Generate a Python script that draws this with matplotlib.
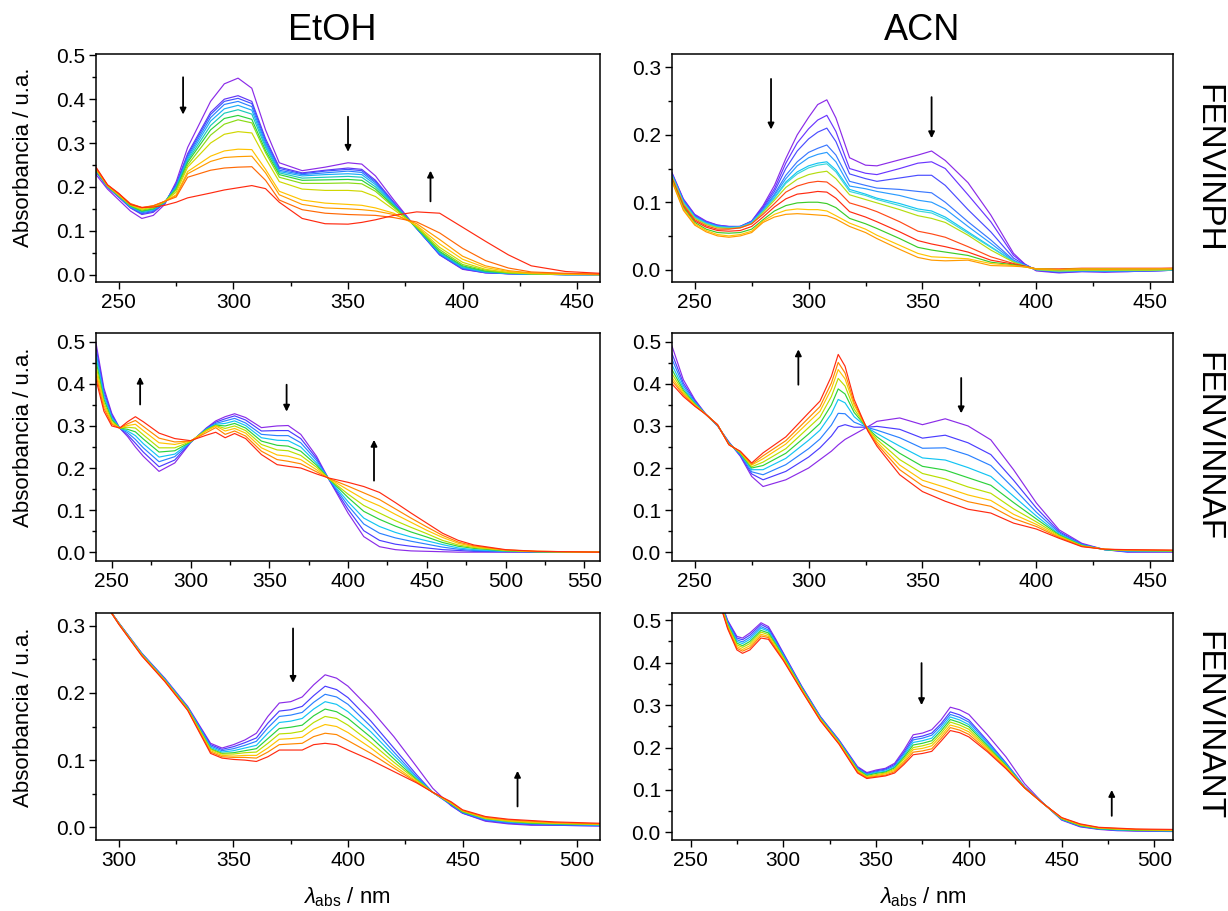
import numpy as np
import matplotlib
matplotlib.use('Agg')
import matplotlib.pyplot as plt
from matplotlib.colors import LinearSegmentedColormap
from matplotlib.ticker import MultipleLocator, FormatStrFormatter

plt.rcParams['font.family'] = ['Liberation Sans', 'DejaVu Sans']
plt.rcParams['mathtext.fontset'] = 'custom'
plt.rcParams['mathtext.rm'] = 'Liberation Sans'
plt.rcParams['mathtext.it'] = 'Liberation Sans:italic'

# ---------------- datos ----------------
# cada fila: absorbancia de todas las curvas a una longitud de onda (violeta -> rojo)

# FENVINPH / EtOH
wl_etoh_ph = [240, 245, 250, 255, 260, 265, 270, 275, 280, 290, 296, 302, 308, 314, 320,
              330, 340, 350, 356, 362, 370, 380, 390, 400, 410, 420, 430, 445, 460]
abs_etoh_ph = [
    [.228, .234, .235, .236, .237, .238, .239, .240, .240, .241, .242, .243, .245],
    [.195, .199, .200, .200, .201, .201, .202, .202, .203, .203, .204, .204, .205],
    [.170, .176, .177, .178, .179, .179, .180, .180, .181, .182, .183, .184, .185],
    [.145, .152, .153, .154, .155, .156, .157, .158, .159, .160, .161, .162, .160],
    [.128, .137, .139, .141, .143, .144, .145, .147, .149, .151, .152, .153, .153],
    [.135, .142, .144, .146, .148, .149, .150, .152, .154, .156, .157, .157, .154],
    [.160, .163, .164, .164, .165, .165, .166, .166, .167, .167, .167, .167, .158],
    [.212, .207, .205, .203, .200, .198, .195, .193, .188, .182, .180, .177, .165],
    [.290, .276, .272, .268, .264, .260, .256, .250, .245, .235, .230, .222, .175],
    [.395, .370, .365, .358, .350, .340, .330, .318, .300, .270, .258, .238, .186],
    [.435, .400, .395, .388, .378, .368, .356, .343, .320, .282, .267, .243, .193],
    [.448, .408, .402, .395, .386, .376, .363, .353, .326, .286, .269, .245, .198],
    [.425, .395, .390, .383, .375, .366, .354, .346, .323, .285, .270, .246, .203],
    [.330, .310, .305, .300, .295, .290, .283, .278, .265, .240, .232, .215, .196],
    [.255, .245, .242, .238, .235, .232, .228, .222, .212, .190, .182, .170, .165],
    [.237, .232, .230, .228, .225, .220, .215, .208, .195, .170, .160, .148, .128],
    [.245, .238, .236, .232, .228, .222, .216, .208, .192, .163, .152, .140, .116],
    [.255, .243, .240, .236, .230, .224, .217, .209, .192, .160, .150, .137, .115],
    [.252, .240, .237, .233, .228, .222, .215, .207, .190, .158, .148, .136, .119],
    [.225, .215, .212, .209, .205, .200, .195, .190, .178, .152, .145, .135, .125],
    [.170, .165, .163, .162, .160, .158, .156, .153, .148, .140, .137, .130, .135],
    [.105, .105, .105, .105, .106, .106, .107, .108, .110, .112, .116, .120, .143],
    [.045, .045, .046, .047, .049, .051, .053, .057, .062, .070, .080, .095, .140],
    [.012, .013, .014, .015, .016, .018, .020, .023, .028, .035, .042, .060, .108],
    [.004, .004, .005, .005, .006, .007, .008, .010, .012, .016, .020, .032, .076],
    [.002, .002, .002, .002, .003, .003, .004, .004, .005, .007, .009, .015, .045],
    [.001, .001, .001, .001, .001, .001, .002, .002, .002, .003, .004, .006, .020],
    [.000, .000, .000, .000, .000, .000, .000, .001, .001, .001, .002, .003, .007],
    [.000, .000, .000, .000, .000, .000, .000, .000, .000, .000, .001, .001, .003],
]

# FENVINPH / ACN
wl_acn_ph = [240, 245, 250, 255, 260, 265, 270, 275, 280, 285, 290, 295, 300, 304, 308, 312,
             318, 325, 330, 340, 348, 354, 360, 370, 380, 390, 395, 400, 410, 420, 430, 440,
             450, 460]
abs_acn_ph = [
    [.144, .143, .142, .141, .140, .140, .139, .138, .136, .134, .133, .132, .131],
    [.105, .104, .103, .102, .101, .100, .099, .098, .096, .094, .092, .090, .088],
    [.082, .081, .080, .079, .078, .078, .077, .076, .074, .072, .070, .068, .066],
    [.072, .071, .070, .070, .069, .069, .068, .067, .065, .063, .060, .058, .056],
    [.066, .066, .065, .065, .064, .064, .063, .062, .060, .058, .055, .052, .050],
    [.064, .064, .063, .063, .063, .062, .062, .061, .060, .057, .054, .050, .048],
    [.064, .064, .064, .064, .063, .063, .063, .062, .062, .058, .055, .052, .050],
    [.072, .072, .071, .071, .070, .070, .069, .068, .068, .064, .060, .057, .055],
    [.095, .093, .091, .089, .088, .087, .086, .085, .082, .078, .074, .072, .070],
    [.125, .120, .116, .112, .110, .107, .106, .103, .098, .093, .087, .082, .078],
    [.165, .158, .150, .140, .135, .130, .128, .122, .115, .105, .095, .088, .082],
    [.200, .188, .176, .160, .154, .145, .142, .134, .124, .112, .099, .090, .083],
    [.226, .209, .194, .174, .166, .154, .151, .141, .129, .114, .100, .089, .082],
    [.245, .222, .204, .180, .171, .158, .155, .144, .131, .116, .100, .089, .081],
    [.252, .229, .210, .185, .174, .160, .157, .146, .130, .115, .098, .087, .080],
    [.225, .205, .190, .170, .160, .148, .145, .135, .120, .106, .092, .080, .075],
    [.166, .150, .142, .131, .124, .119, .116, .111, .099, .086, .076, .069, .064],
    [.155, .143, .135, .125, .120, .112, .110, .104, .092, .078, .068, .060, .055],
    [.154, .141, .131, .121, .116, .106, .104, .099, .086, .071, .061, .051, .046],
    [.163, .150, .136, .119, .110, .098, .095, .089, .071, .056, .046, .036, .030],
    [.170, .158, .140, .116, .103, .090, .087, .080, .057, .043, .033, .024, .018],
    [.176, .160, .140, .114, .100, .087, .084, .076, .053, .038, .029, .019, .014],
    [.162, .150, .125, .100, .090, .078, .075, .070, .048, .034, .026, .018, .013],
    [.129, .111, .089, .071, .064, .056, .054, .051, .034, .026, .021, .016, .014],
    [.081, .071, .056, .044, .039, .034, .033, .029, .019, .014, .011, .009, .006],
    [.024, .021, .017, .014, .013, .012, .012, .011, .009, .008, .007, .006, .005],
    [.008, .008, .007, .006, .006, .006, .006, .005, .005, .005, .004, .004, .004],
    [-.002, -.001, -.001, .000, .000, .000, .000, .000, .001, .001, .001, .001, .001],
    [-.005, -.004, -.004, -.003, -.003, -.002, -.002, -.002, .000, .001, .000, .000, .000],
    [-.003, -.003, -.002, -.002, -.002, -.001, -.001, -.001, .001, .002, .001, .001, .001],
    [-.004, -.003, -.003, -.002, -.002, -.002, -.001, -.001, .001, .002, .001, .001, .000],
    [-.003, -.003, -.002, -.002, -.002, -.001, -.001, -.001, .001, .002, .001, .001, .001],
    [-.002, -.002, -.002, -.002, -.001, -.001, -.001, -.001, .001, .002, .001, .001, .001],
    [-.001, -.001, -.001, -.001, -.001, .000, .000, .000, .002, .002, .001, .001, .001],
]
colors_acn_ph = ['#8b2be8', '#6a35ff', '#4a4cff', '#3a78ff', '#2a9cff', '#12c4f5',
                 '#3ad8d8', '#b4dc10', '#ff4a18', '#ff2a10', '#3ccc28', '#ffc400', '#ff9a00']

# FENVINNAF / EtOH
wl_etoh_naf = [240, 245, 250, 255, 260, 265, 270, 280, 290, 300, 310, 316, 322, 328, 335, 345,
               355, 362, 370, 380, 388, 400, 410, 420, 430, 440, 450, 460, 470, 480, 500,
               520, 560]
abs_etoh_naf = [
    [.497, .487, .475, .465, .454, .443, .432, .421, .410],
    [.390, .383, .376, .370, .363, .356, .349, .342, .335],
    [.330, .326, .322, .319, .315, .311, .307, .304, .300],
    [.295, .295, .295, .295, .295, .295, .295, .295, .295],
    [.275, .279, .284, .288, .292, .297, .301, .305, .310],
    [.250, .259, .268, .277, .286, .295, .304, .313, .322],
    [.228, .238, .248, .258, .269, .279, .289, .299, .310],
    [.192, .203, .215, .226, .238, .248, .260, .271, .283],
    [.212, .219, .227, .233, .241, .248, .256, .262, .270],
    [.260, .261, .261, .262, .262, .263, .264, .264, .265],
    [.295, .294, .293, .292, .291, .290, .288, .284, .278],
    [.312, .309, .306, .304, .302, .301, .300, .296, .285],
    [.322, .317, .312, .306, .300, .294, .288, .280, .272],
    [.329, .324, .318, .312, .306, .300, .294, .288, .282],
    [.320, .314, .307, .301, .295, .289, .283, .276, .270],
    [.296, .288, .280, .272, .264, .256, .248, .240, .232],
    [.300, .289, .277, .266, .254, .243, .231, .220, .208],
    [.301, .289, .277, .265, .252, .241, .228, .216, .204],
    [.280, .270, .260, .250, .240, .230, .220, .210, .200],
    [.228, .223, .218, .212, .207, .202, .196, .191, .186],
    [.172, .172, .173, .173, .174, .174, .175, .175, .176],
    [.093, .102, .111, .120, .130, .138, .148, .157, .166],
    [.037, .051, .067, .081, .097, .111, .126, .141, .156],
    [.013, .028, .045, .061, .078, .093, .110, .125, .142],
    [.006, .019, .034, .047, .062, .075, .090, .103, .118],
    [.003, .014, .026, .036, .048, .059, .071, .081, .093],
    [.002, .010, .019, .027, .036, .044, .052, .060, .069],
    [.001, .006, .012, .018, .023, .028, .035, .040, .045],
    [.000, .004, .007, .010, .014, .017, .021, .024, .028],
    [.000, .002, .004, .006, .009, .011, .013, .015, .017],
    [.000, .001, .002, .002, .003, .004, .005, .005, .006],
    [.000, .000, .001, .001, .001, .001, .002, .002, .002],
    [.000, .000, .000, .000, .000, .000, .000, .000, .000],
]

# FENVINNAF / ACN
wl_acn_naf = [240, 245, 250, 255, 260, 265, 270, 275, 280, 290, 300, 305, 310, 313, 316, 320,
              326, 330, 340, 350, 360, 370, 380, 390, 400, 410, 420, 430, 440, 460]
abs_acn_naf = [
    [.490, .472, .459, .445, .434, .424, .415, .408, .400],
    [.410, .402, .396, .390, .385, .381, .377, .374, .370],
    [.363, .360, .357, .355, .353, .351, .350, .348, .347],
    [.327, .327, .327, .327, .327, .327, .327, .327, .327],
    [.300, .301, .301, .302, .302, .302, .303, .303, .303],
    [.262, .261, .260, .258, .258, .257, .256, .256, .255],
    [.228, .230, .232, .234, .235, .237, .238, .239, .240],
    [.180, .186, .191, .196, .200, .203, .207, .209, .212],
    [.156, .172, .184, .196, .206, .214, .222, .229, .236],
    [.172, .192, .208, .223, .235, .246, .257, .265, .274],
    [.200, .226, .246, .266, .281, .296, .309, .319, .331],
    [.220, .248, .269, .290, .306, .321, .335, .346, .359],
    [.240, .276, .302, .329, .350, .370, .388, .402, .418],
    [.255, .298, .330, .363, .388, .413, .434, .451, .470],
    [.268, .303, .329, .355, .376, .395, .412, .426, .442],
    [.280, .297, .309, .322, .332, .340, .349, .355, .363],
    [.298, .297, .296, .295, .294, .293, .292, .290, .288],
    [.311, .299, .290, .282, .274, .268, .262, .257, .252],
    [.319, .292, .272, .252, .235, .220, .207, .196, .184],
    [.303, .271, .247, .224, .204, .187, .171, .158, .144],
    [.317, .278, .248, .219, .195, .174, .154, .139, .121],
    [.300, .260, .231, .201, .177, .155, .136, .120, .102],
    [.267, .232, .206, .180, .159, .140, .123, .109, .093],
    [.196, .171, .152, .133, .118, .103, .090, .080, .069],
    [.117, .105, .095, .086, .079, .072, .066, .061, .055],
    [.053, .049, .046, .043, .041, .039, .037, .035, .033],
    [.021, .019, .018, .017, .016, .015, .014, .014, .013],
    [.006, .006, .006, .006, .006, .007, .007, .007, .007],
    [.000, .001, .002, .003, .004, .004, .005, .005, .006],
    [.000, .001, .002, .002, .003, .003, .004, .004, .005],
]

# FENVINANT / EtOH
wl_etoh_ant = [290, 295, 300, 310, 320, 330, 340, 345, 350, 355, 360, 365, 370, 375, 380,
               385, 390, 395, 400, 410, 420, 430, 437, 445, 450, 460, 470, 480, 490, 510]
abs_etoh_ant = [
    [.345, .345, .345, .345, .345, .345, .345, .345, .345],
    [.328, .328, .328, .328, .328, .328, .328, .328, .328],
    [.304, .304, .304, .303, .303, .303, .303, .302, .302],
    [.259, .259, .258, .258, .257, .257, .256, .256, .255],
    [.222, .221, .221, .220, .219, .219, .218, .218, .217],
    [.180, .179, .178, .178, .177, .176, .175, .175, .174],
    [.125, .123, .121, .119, .117, .116, .114, .112, .110],
    [.118, .116, .114, .112, .110, .109, .107, .105, .103],
    [.123, .120, .117, .114, .111, .109, .106, .104, .101],
    [.130, .126, .122, .118, .114, .111, .107, .104, .100],
    [.140, .133, .128, .122, .117, .112, .107, .103, .098],
    [.165, .155, .148, .140, .132, .125, .118, .112, .105],
    [.185, .173, .165, .156, .147, .139, .131, .123, .115],
    [.187, .175, .167, .158, .149, .140, .132, .124, .115],
    [.194, .180, .171, .162, .152, .143, .134, .125, .115],
    [.212, .196, .186, .176, .166, .156, .146, .135, .123],
    [.227, .210, .198, .187, .176, .165, .153, .140, .125],
    [.222, .205, .194, .183, .172, .162, .150, .138, .123],
    [.210, .193, .183, .172, .162, .152, .141, .129, .115],
    [.175, .158, .150, .142, .134, .126, .118, .110, .100],
    [.135, .118, .112, .107, .102, .097, .092, .088, .083],
    [.090, .078, .075, .073, .071, .070, .068, .067, .066],
    [.058, .052, .052, .052, .052, .052, .052, .052, .052],
    [.032, .033, .034, .035, .035, .036, .036, .037, .038],
    [.021, .021, .022, .023, .023, .024, .025, .025, .026],
    [.009, .010, .011, .012, .013, .013, .014, .015, .016],
    [.005, .006, .007, .008, .009, .009, .010, .011, .012],
    [.003, .004, .005, .006, .006, .007, .008, .009, .010],
    [.003, .003, .004, .005, .005, .006, .006, .007, .008],
    [.002, .002, .003, .003, .004, .004, .005, .005, .006],
]

# FENVINANT / ACN
wl_acn_ant = [265, 270, 275, 278, 282, 288, 292, 296, 300, 310, 320, 330, 340, 345, 350, 355,
              360, 365, 370, 375, 380, 385, 390, 395, 400, 410, 420, 430, 440, 450, 460, 470,
              480, 490, 510]
abs_acn_ant = [
    [.560, .559, .558, .556, .555, .554, .553, .551, .550],
    [.500, .498, .495, .493, .490, .488, .485, .483, .480],
    [.462, .458, .454, .450, .446, .442, .438, .434, .430],
    [.458, .454, .449, .445, .440, .436, .431, .427, .422],
    [.470, .465, .460, .455, .450, .445, .440, .435, .430],
    [.494, .490, .485, .481, .476, .472, .467, .463, .458],
    [.485, .481, .477, .474, .470, .466, .462, .459, .455],
    [.455, .452, .449, .446, .443, .440, .436, .433, .430],
    [.423, .421, .419, .416, .414, .412, .409, .407, .405],
    [.344, .343, .341, .340, .339, .337, .336, .334, .333],
    [.273, .272, .271, .269, .268, .267, .266, .264, .263],
    [.218, .217, .216, .214, .213, .212, .211, .209, .208],
    [.155, .153, .151, .149, .148, .146, .144, .142, .140],
    [.141, .139, .137, .136, .134, .132, .130, .129, .127],
    [.147, .145, .143, .141, .139, .136, .134, .132, .130],
    [.151, .149, .147, .144, .142, .140, .138, .135, .133],
    [.163, .160, .157, .154, .152, .149, .146, .143, .140],
    [.194, .189, .185, .181, .177, .173, .168, .164, .160],
    [.230, .223, .218, .212, .206, .200, .195, .189, .183],
    [.234, .227, .222, .216, .210, .204, .198, .192, .186],
    [.242, .234, .229, .222, .216, .210, .204, .197, .191],
    [.265, .256, .251, .245, .239, .233, .227, .221, .215],
    [.295, .284, .278, .272, .266, .260, .253, .247, .240],
    [.289, .277, .271, .265, .259, .253, .247, .241, .235],
    [.278, .265, .260, .254, .249, .243, .237, .231, .225],
    [.230, .216, .212, .208, .204, .200, .197, .193, .190],
    [.178, .164, .162, .160, .158, .156, .154, .152, .150],
    [.115, .108, .107, .107, .106, .106, .105, .105, .105],
    [.069, .069, .069, .069, .068, .068, .068, .068, .068],
    [.029, .030, .031, .031, .032, .033, .034, .034, .035],
    [.013, .014, .015, .016, .016, .017, .018, .019, .020],
    [.007, .008, .008, .009, .009, .010, .011, .011, .012],
    [.004, .005, .006, .006, .007, .008, .008, .009, .010],
    [.003, .004, .004, .005, .005, .006, .007, .007, .008],
    [.002, .003, .003, .004, .004, .005, .005, .006, .007],
]

# flechas: (lambda, desde, hasta)
arrows_etoh_ph = [(278, .45, .365), (350, .36, .28), (386, .167, .237)]
arrows_acn_ph = [(283.5, .283, .208), (354, .256, .195)]
arrows_etoh_naf = [(268, .351, .417), (361, .398, .334), (416.5, .17, .267)]
arrows_acn_naf = [(295.5, .398, .482), (367, .414, .33)]
arrows_etoh_ant = [(376, .296, .215), (474, .031, .084)]
arrows_acn_ant = [(374.5, .399, .30), (477, .039, .10)]

solvents = ['EtOH', 'ACN']
compounds = ['FENVINPH', 'FENVINNAF', 'FENVINANT']

# ---------------- figura ----------------
rainbow = LinearSegmentedColormap.from_list(
    'origin_rainbow', ['#8b2be8', '#4b3cff', '#2a80ff', '#12c4f5', '#2ad23c',
                       '#b8e000', '#ffc400', '#ff8a00', '#ff2a10'])

fig = plt.figure(figsize=(12.28, 9.11), dpi=100)

col_left = [0.0782, 0.5472]
col_width = [0.4104, 0.408]
row_bottom = [0.6904, 0.3842, 0.0779]
row_height = [0.2503, 0.2503, 0.2492]


def panel(row, col, wl, table, xlim, ylim, ymaj, arrows, colors=None):
    ax = fig.add_axes([col_left[col], row_bottom[row], col_width[col], row_height[row]])
    curves = np.array(table).T
    if colors is None:
        colors = [rainbow(v) for v in np.linspace(0, 1, len(curves))]
    for c, colr in zip(curves, colors):
        ax.plot(wl, c, color=colr, lw=0.85)
    for x, y0, y1 in arrows:
        ax.annotate('', xy=(x, y1), xytext=(x, y0),
                    arrowprops=dict(arrowstyle='-|>', color='k', lw=1.3,
                                    mutation_scale=9, shrinkA=0, shrinkB=0))
    ax.set_xlim(*xlim)
    ax.set_ylim(*ylim)
    ax.xaxis.set_major_locator(MultipleLocator(50))
    ax.xaxis.set_minor_locator(MultipleLocator(25))
    ax.set_yticks(np.arange(0, ymaj + 0.01, 0.1))
    ax.yaxis.set_minor_locator(MultipleLocator(0.05))
    ax.yaxis.set_major_formatter(FormatStrFormatter('%.1f'))
    ax.tick_params(which='major', direction='out', length=5, width=1.0,
                   labelsize=15, pad=3)
    ax.tick_params(which='minor', direction='out', length=3, width=1.0)
    for s in ax.spines.values():
        s.set_linewidth(1.1)
    return ax


panel(0, 0, wl_etoh_ph, abs_etoh_ph, (240, 460), (-0.017, 0.503), 0.5, arrows_etoh_ph)
panel(0, 1, wl_acn_ph, abs_acn_ph, (240, 460), (-0.0185, 0.32), 0.3, arrows_acn_ph,
      colors=colors_acn_ph)
panel(1, 0, wl_etoh_naf, abs_etoh_naf, (240, 560), (-0.021, 0.521), 0.5, arrows_etoh_naf)
panel(1, 1, wl_acn_naf, abs_acn_naf, (240, 460), (-0.021, 0.521), 0.5, arrows_acn_naf)
panel(2, 0, wl_etoh_ant, abs_etoh_ant, (290, 510), (-0.019, 0.319), 0.3, arrows_etoh_ant)
panel(2, 1, wl_acn_ant, abs_acn_ant, (240, 510), (-0.018, 0.517), 0.5, arrows_acn_ant)

W, H = 1228.0, 911.0
fig.text(332 / W, 1 - 30 / H, solvents[0], ha='center', va='center', fontsize=26)
fig.text(922 / W, 1 - 30 / H, solvents[1], ha='center', va='center', fontsize=26)
for name, yc in zip(compounds, [168, 447, 726]):
    fig.text(1208 / W, 1 - yc / H, name, rotation=-90, ha='center', va='center', fontsize=24)
for yc in [157, 437, 717]:
    fig.text(24 / W, 1 - yc / H, 'Absorbancia / u.a.', rotation=90, ha='center',
             va='center', fontsize=16)
for xc in [347, 923]:
    fig.text(xc / W, 1 - 897 / H, r'$\lambda_{\rm abs}$ / nm', ha='center', va='center',
             fontsize=16)

fig.savefig('out.png', dpi=100)
